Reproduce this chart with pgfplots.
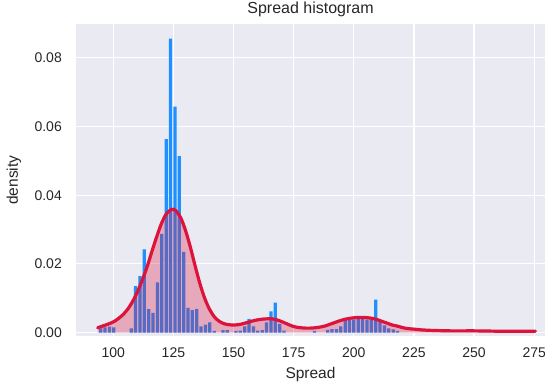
\documentclass[border=0pt]{standalone}
\usepackage{pgfplots}
\pgfplotsset{compat=1.18}
\usepackage{pgfplotstable}
\usepackage{fontspec}
\setmainfont{Liberation Sans}
\definecolor{bg}{RGB}{234,234,242}
\definecolor{dblue}{RGB}{30,144,255}
\definecolor{crim}{RGB}{220,20,60}
\definecolor{txt}{RGB}{38,38,38}

\pgfplotstableread{
x y
94.76 0.0012
96.58 0.0015
98.39 0.0017
100.21 0.0015
107.47 0.0012
109.28 0.0135
111.10 0.0164
112.91 0.0242
114.73 0.0068
116.54 0.0057
118.36 0.0146
120.17 0.0287
121.99 0.0563
123.80 0.0856
125.62 0.0658
127.43 0.0514
129.25 0.0235
131.06 0.0072
132.88 0.0065
134.69 0.0069
136.51 0.0018
138.32 0.0023
140.14 0.0030
141.95 0.0005
145.58 0.0007
147.40 0.0007
151.03 0.0005
152.84 0.0006
154.66 0.0018
156.47 0.0040
158.29 0.0018
160.10 0.0006
161.92 0.0007
163.73 0.0030
165.55 0.0062
167.36 0.0087
169.18 0.0025
170.99 0.0006
183.70 0.0005
189.14 0.0008
190.96 0.0010
192.77 0.0010
194.59 0.0018
196.40 0.0043
198.22 0.0038
200.03 0.0038
201.85 0.0040
203.66 0.0040
205.48 0.0038
207.29 0.0040
209.11 0.0096
210.92 0.0035
212.74 0.0021
214.55 0.0012
216.37 0.0009
218.18 0.0005
}\hist

\pgfplotstableread{
x y
93.5 0.0014
96 0.0020
98 0.0025
100 0.0031
102 0.0040
104 0.0052
106 0.0068
108 0.0090
110 0.0118
112 0.0152
114 0.0190
116 0.0235
118 0.0278
120 0.0317
122 0.0345
124 0.0358
125 0.0359
126 0.0355
128 0.0335
130 0.0298
132 0.0250
134 0.0195
136 0.0143
138 0.0100
140 0.0068
142 0.0046
144 0.0033
146 0.0026
148 0.0023
150 0.0022
152 0.0023
154 0.0026
156 0.0030
158 0.0034
160 0.0037
162 0.0039
164 0.0040
166 0.0040
168 0.0037
170 0.0032
172 0.0026
174 0.0020
176 0.0016
178 0.0014
180 0.0013
182 0.0013
184 0.0014
186 0.0016
188 0.0019
190 0.0024
192 0.0029
194 0.0034
196 0.0038
198 0.0041
200 0.0043
202 0.0044
204 0.0044
206 0.0043
208 0.0041
210 0.0037
212 0.0032
214 0.0027
216 0.0022
218 0.0019
220 0.0015
222 0.0012
225 0.0010
230 0.0007
240 0.0005
250 0.0005
260 0.0004
270 0.0004
275.5 0.0004
}\kde

\begin{document}
\begin{tikzpicture}
\begin{axis}[
  scale only axis, width=469bp, height=311.5bp,
  xmin=84.5, xmax=279.5, ymin=-0.001, ymax=0.0897,
  axis background/.style={fill=bg},
  axis line style={draw=none},
  major tick length=0pt,
  grid=major, major grid style={white, line width=1.2bp},
  xtick={100,125,...,275}, ytick={0,0.02,0.04,0.06,0.08},
  scaled y ticks=false,
  /pgf/number format/assume math mode=true,
  yticklabel style={/pgf/number format/.cd, fixed, fixed zerofill, precision=2, /tikz/.cd},
  tick label style={font=\fontsize{14bp}{16bp}\selectfont, text=txt},
  xticklabel style={anchor=north, inner sep=0pt, yshift=-12bp},
  yticklabel style={anchor=east, inner sep=0pt, xshift=-14bp},
]
\addplot[ybar, bar width=1.35, fill=dblue, draw=none] table {\hist};
\addplot[fill=crim, fill opacity=0.3, draw=none] table {\kde} \closedcycle;
\addplot[crim, line width=3.2bp, line join=round, line cap=round, smooth] table {\kde};
\coordinate (SW) at (rel axis cs:0,0);
\end{axis}
\node[anchor=base, font=\fontsize{16bp}{18bp}\selectfont, text=txt] at ([xshift=234.5bp, yshift=322bp]SW) {Spread histogram};
\node[anchor=north, inner sep=0pt, font=\fontsize{15.5bp}{18bp}\selectfont, text=txt] at ([xshift=234.5bp, yshift=-31bp]SW) {Spread};
\node[anchor=base, rotate=90, inner sep=0pt, font=\fontsize{15.5bp}{18bp}\selectfont, text=txt] at ([xshift=-58bp, yshift=155.75bp]SW) {density};
\pgfresetboundingbox
\path ([xshift=-76bp, yshift=-53bp]SW) rectangle ([xshift=469bp, yshift=336bp]SW);
\end{tikzpicture}
\end{document}
